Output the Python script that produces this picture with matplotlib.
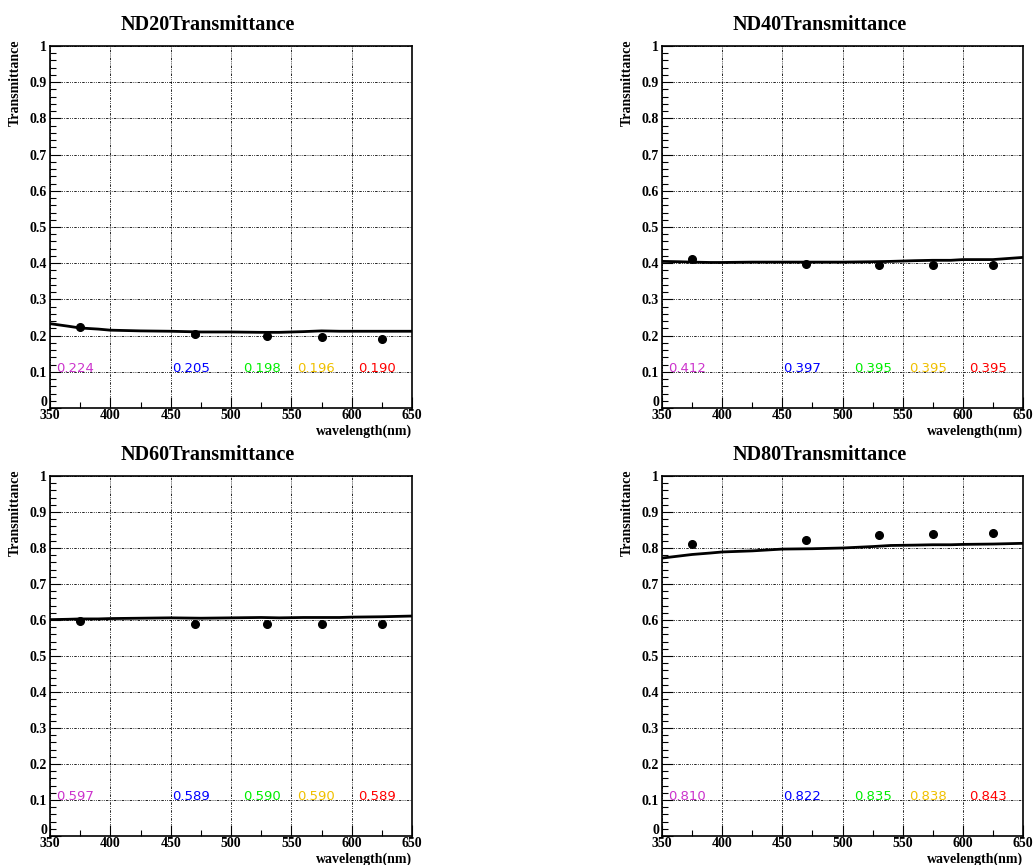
import matplotlib
matplotlib.use("Agg")
import matplotlib.pyplot as plt
from matplotlib.ticker import MultipleLocator, FuncFormatter

# wavelength grid of the measured curve
wl_curve = [350, 365, 375, 390, 400, 425, 450, 475, 500, 525, 540, 560, 575, 590, 600, 625, 650]

nd20_curve = [0.233, 0.226, 0.221, 0.218, 0.215, 0.213, 0.212, 0.210, 0.210, 0.209, 0.209, 0.211, 0.213, 0.212, 0.212, 0.212, 0.212]
nd40_curve = [0.405, 0.404, 0.403, 0.402, 0.402, 0.403, 0.403, 0.403, 0.403, 0.404, 0.405, 0.407, 0.408, 0.408, 0.410, 0.410, 0.416]
nd60_curve = [0.601, 0.602, 0.603, 0.603, 0.604, 0.605, 0.606, 0.605, 0.606, 0.607, 0.606, 0.607, 0.607, 0.607, 0.608, 0.609, 0.611]
nd80_curve = [0.772, 0.778, 0.782, 0.786, 0.789, 0.792, 0.797, 0.798, 0.800, 0.804, 0.807, 0.808, 0.809, 0.809, 0.810, 0.811, 0.813]

# LED points
wl_points = [375, 470, 530, 575, 625]
nd20_points = [0.224, 0.205, 0.198, 0.196, 0.190]
nd40_points = [0.412, 0.397, 0.395, 0.395, 0.395]
nd60_points = [0.597, 0.589, 0.590, 0.590, 0.589]
nd80_points = [0.810, 0.822, 0.835, 0.838, 0.843]

label_x = [355, 451, 510, 555, 605]
label_colors = ["#cc33cc", "#0000ff", "#00ee00", "#f0c000", "#ff0000"]

titles = ["ND20Transmittance", "ND40Transmittance", "ND60Transmittance", "ND80Transmittance"]
curves = [nd20_curve, nd40_curve, nd60_curve, nd80_curve]
points = [nd20_points, nd40_points, nd60_points, nd80_points]

serif = "Liberation Serif"
W, H = 1033, 865
fig = plt.figure(figsize=(W / 100, H / 100), dpi=100)

# axes rectangles in pixels: left, top, right, bottom
boxes = [(50, 46, 412, 408), (662, 46, 1023, 408),
         (50, 476, 412, 836), (662, 476, 1023, 836)]

grid_style = (0, (3, 1.5, 1, 1.5, 1, 1.5))

def fmt(v, pos):
    if abs(v) < 1e-9:
        return ""  # the zero is drawn by hand, a bit higher
    if abs(v - 1) < 1e-9:
        return "1"
    return "%.1f" % v

for i in range(4):
    l, t, r, b = boxes[i]
    ax = fig.add_axes([l / W, 1 - b / H, (r - l) / W, (b - t) / H])
    ax.plot(wl_curve, curves[i], color="black", lw=2.0)
    ax.plot(wl_points, points[i], "o", color="black", ms=5.5)
    for x, v, c in zip(label_x, points[i], label_colors):
        ax.text(x, 0.1, "%.3f" % v, color=c, fontsize=9.5, ha="left", va="baseline",
                family="DejaVu Sans")
    ax.set_xlim(350, 650)
    ax.set_ylim(0, 1)
    ax.xaxis.set_major_locator(MultipleLocator(50))
    ax.xaxis.set_minor_locator(MultipleLocator(25))
    ax.yaxis.set_major_locator(MultipleLocator(0.1))
    ax.yaxis.set_minor_locator(MultipleLocator(0.02))
    ax.yaxis.set_major_formatter(FuncFormatter(fmt))
    ax.grid(True, which="major", color="black", lw=0.6, linestyle=grid_style)
    ax.tick_params(which="both", direction="in", top=False, right=False, width=0.8)
    ax.tick_params(which="major", length=8)
    ax.tick_params(which="minor", length=4)
    ax.tick_params(axis="y", pad=2)
    ax.tick_params(axis="x", pad=1)
    for lab in ax.get_xticklabels() + ax.get_yticklabels():
        lab.set_family(serif)
        lab.set_fontweight("bold")
        lab.set_fontsize(10)
    for sp in ax.spines.values():
        sp.set_linewidth(1.2)

    fig.text((l - 3) / W, 1 - (b - 5) / H, "0", family=serif, fontweight="bold",
             fontsize=10, ha="right", va="center")
    fig.text((l + 158) / W, 1 - (t - 21) / H, titles[i], family=serif, fontweight="bold",
             fontsize=14.5, ha="center", va="center")
    fig.text((l - 35) / W, 1 - (t - 6) / H, "Transmittance", family=serif,
             fontweight="bold", fontsize=10, rotation=90, ha="center", va="top")
    fig.text(r / W, 1 - (b + 23) / H, "wavelength(nm)", family=serif,
             fontweight="bold", fontsize=10, ha="right", va="center")

plt.savefig("out.png", dpi=100)
